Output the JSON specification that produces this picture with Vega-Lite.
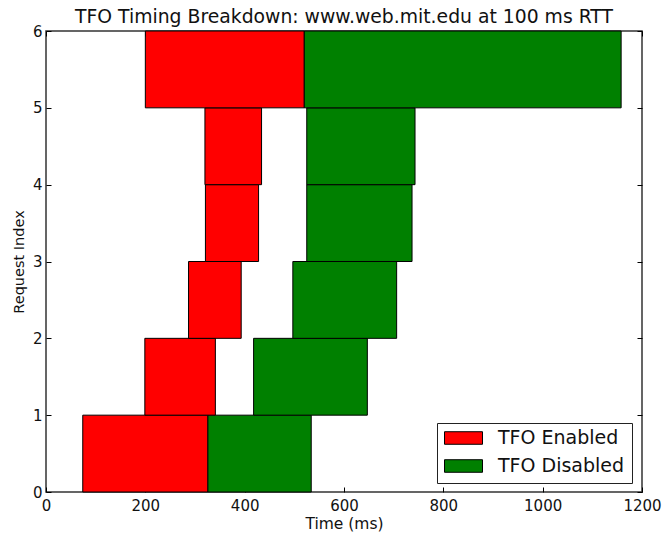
{
  "$schema": "https://vega.github.io/schema/vega-lite/v6.json",
  "width": 596,
  "height": 461,
  "autosize": "none",
  "padding": {"left": 46, "top": 31, "right": 21, "bottom": 44},
  "background": "white",
  "title": {"text": "TFO Timing Breakdown: www.web.mit.edu at 100 ms RTT", "fontSize": 18.8, "fontWeight": "normal", "font": "DejaVu Sans", "color": "#111111", "offset": -3},
  "data": {"values": [
    {"index": 0, "start": 74, "end": 326, "mode": "TFO Enabled"},
    {"index": 0, "start": 326, "end": 534, "mode": "TFO Disabled"},
    {"index": 1, "start": 199, "end": 341, "mode": "TFO Enabled"},
    {"index": 1, "start": 418, "end": 647, "mode": "TFO Disabled"},
    {"index": 2, "start": 287, "end": 393, "mode": "TFO Enabled"},
    {"index": 2, "start": 497, "end": 706, "mode": "TFO Disabled"},
    {"index": 3, "start": 321, "end": 428, "mode": "TFO Enabled"},
    {"index": 3, "start": 525, "end": 737, "mode": "TFO Disabled"},
    {"index": 4, "start": 320, "end": 434, "mode": "TFO Enabled"},
    {"index": 4, "start": 525, "end": 743, "mode": "TFO Disabled"},
    {"index": 5, "start": 200, "end": 520, "mode": "TFO Enabled"},
    {"index": 5, "start": 520, "end": 1158, "mode": "TFO Disabled"}
  ]},
  "transform": [{"calculate": "datum.index + 1", "as": "top"}],
  "layer": [
    {
      "mark": {"type": "bar", "stroke": "black", "strokeWidth": 1, "opacity": 1},
      "encoding": {
        "x": {"field": "start", "type": "quantitative", "scale": {"domain": [0, 1200], "nice": false, "zero": false},
              "axis": {"values": [0, 200, 400, 600, 800, 1000, 1200], "format": "d", "labelFlush": false, "labelOverlap": false, "title": "Time (ms)", "grid": false, "domain": false, "tickSize": -5, "tickColor": "black", "labelPadding": 11, "labelFontSize": 15, "labelFont": "DejaVu Sans", "labelColor": "#111111", "titleFont": "DejaVu Sans", "titleFontSize": 15.5, "titleFontWeight": "normal", "titleColor": "#111111", "titlePadding": 3}},
        "x2": {"field": "end"},
        "y": {"field": "index", "type": "quantitative", "scale": {"domain": [0, 6], "nice": false, "zero": false},
              "axis": {"values": [0, 1, 2, 3, 4, 5, 6], "format": "d", "labelFlush": false, "labelOverlap": false, "title": "Request Index", "grid": false, "domain": false, "tickSize": -5, "tickColor": "black", "labelPadding": 9, "labelFontSize": 15, "labelFont": "DejaVu Sans", "labelColor": "#111111", "titleFont": "DejaVu Sans", "titleFontSize": 14.5, "titleFontWeight": "normal", "titleColor": "#111111", "titlePadding": 6}},
        "y2": {"field": "top"},
        "color": {"field": "mode", "type": "nominal", "scale": {"domain": ["TFO Enabled", "TFO Disabled"], "range": ["#ff0000", "#008000"]},
                  "legend": {"title": null, "orient": "none", "legendX": 391, "legendY": 392, "direction": "vertical",
                             "symbolType": "M-1,-0.33H1V0.33H-1Z", "symbolSize": 1444, "symbolStrokeColor": "black", "symbolStrokeWidth": 1, "symbolOpacity": 1,
                             "labelFontSize": 19, "labelFont": "DejaVu Sans", "labelColor": "#111111", "labelOffset": 15,
                             "clipHeight": 16, "strokeColor": "#222222", "fillColor": "white", "padding": 7, "rowPadding": 9, "labelLimit": 300}}
      }
    },
    {
      "mark": {"type": "bar", "opacity": 0},
      "encoding": {
        "x": {"field": "start", "type": "quantitative", "scale": {"domain": [0, 1200], "nice": false, "zero": false},
              "axis": {"orient": "top", "values": [0, 200, 400, 600, 800, 1000, 1200], "title": null, "labels": false, "grid": false, "domain": false, "tickSize": -5, "tickColor": "black"}},
        "x2": {"field": "end"},
        "y": {"field": "index", "type": "quantitative", "scale": {"domain": [0, 6], "nice": false, "zero": false},
              "axis": {"orient": "right", "values": [0, 1, 2, 3, 4, 5, 6], "title": null, "labels": false, "grid": false, "domain": false, "tickSize": -5, "tickColor": "black"}},
        "y2": {"field": "top"}
      }
    }
  ],
  "resolve": {"axis": {"x": "independent", "y": "independent"}},
  "config": {"view": {"stroke": "#333333", "strokeWidth": 1.5}}
}
